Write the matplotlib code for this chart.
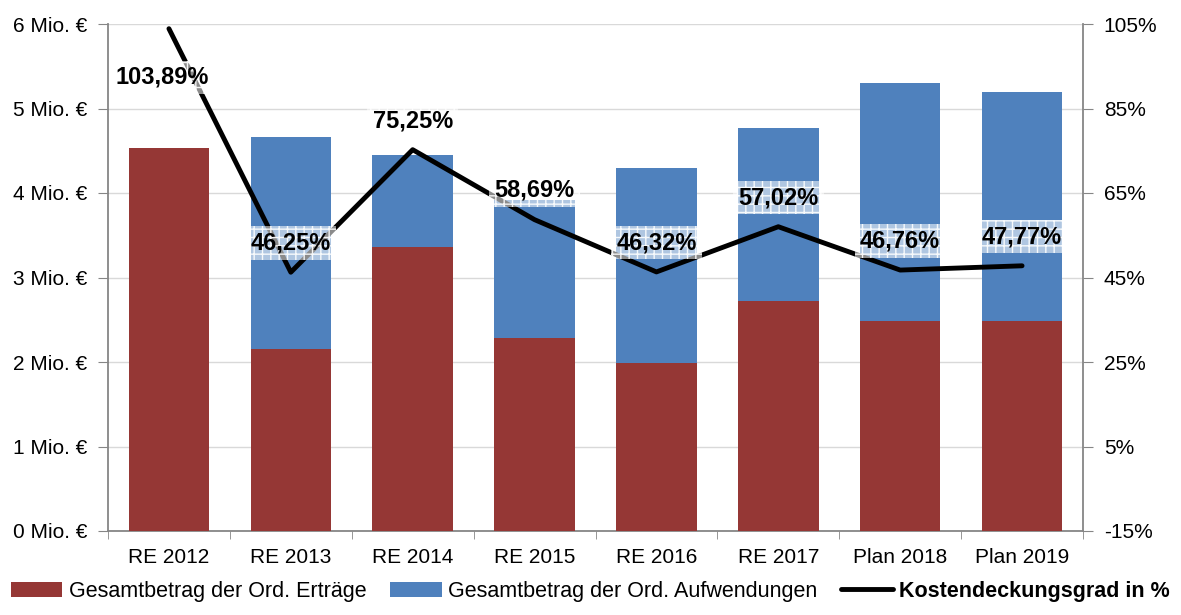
import matplotlib.pyplot as plt
import matplotlib.ticker as plticker
import numpy as np

plt.rcParams['font.family'] = ['Liberation Sans', 'DejaVu Sans']

jahre = ['RE 2012', 'RE 2013', 'RE 2014', 'RE 2015', 'RE 2016', 'RE 2017', 'Plan 2018', 'Plan 2019']
ertraege = [4.53, 2.15, 3.36, 2.28, 1.99, 2.72, 2.49, 2.49]
aufwendungen = [4.36, 4.66, 4.45, 3.92, 4.30, 4.77, 5.30, 5.20]
kostendeckung = [103.89, 46.25, 75.25, 58.69, 46.32, 57.02, 46.76, 47.77]
beschriftung = ['103,89%', '46,25%', '75,25%', '58,69%', '46,32%', '57,02%', '46,76%', '47,77%']
prozent_ticks = [-15, 5, 25, 45, 65, 85, 105]

rot = '#953735'
blau = '#4f81bd'
grau = '#868686'

fig = plt.figure(figsize=(11.81, 6.15), dpi=100)
ax = fig.add_axes([108/1181, 1 - 531/615, (1083 - 108)/1181, (531 - 24)/615])
x = np.arange(len(jahre))

ax.bar(x, aufwendungen, width=0.66, color=blau, zorder=2, label='Gesamtbetrag der Ord. Aufwendungen')
ax.bar(x, ertraege, width=0.66, color=rot, zorder=3, label='Gesamtbetrag der Ord. Erträge')
ax.set_ylim(0, 6)
ax.set_xlim(-0.5, len(jahre) - 0.5)
ax.yaxis.set_major_locator(plticker.MultipleLocator(1))
ax.yaxis.set_major_formatter(plticker.FuncFormatter(lambda v, p: '%d Mio. €' % v))
ax.set_xticks(x)
ax.set_xticklabels(jahre)
ax.set_xticks(np.arange(-0.5, len(jahre)), minor=True)
ax.tick_params(axis='x', which='major', length=0, pad=12, labelsize=15)
ax.tick_params(axis='x', which='minor', length=6, color=grau, direction='out')
ax.tick_params(axis='y', length=7, color=grau, labelsize=15, pad=8)
ax.grid(axis='y', color='#d9d9d9', linewidth=1, zorder=0)
ax.set_axisbelow(True)
for s in ['top', 'right']:
    ax.spines[s].set_visible(False)
for s in ['left', 'bottom']:
    ax.spines[s].set_color(grau)
    ax.spines[s].set_linewidth(1.3)

ax2 = ax.twinx()
ax2.plot(x, kostendeckung, color='black', linewidth=3.5, solid_capstyle='round', zorder=4,
         label='Kostendeckungsgrad in %')
ax2.set_ylim(-15, 105)
ax2.yaxis.set_major_locator(plticker.FixedLocator(prozent_ticks))
ax2.yaxis.set_major_formatter(plticker.FuncFormatter(lambda v, p: '%d%%' % v))
ax2.tick_params(axis='y', length=7, color=grau, labelsize=15, pad=8)
for s in ['top', 'left', 'bottom']:
    ax2.spines[s].set_visible(False)
ax2.spines['right'].set_color(grau)
ax2.spines['right'].set_linewidth(1.3)

for i, (v, txt) in enumerate(zip(kostendeckung, beschriftung)):
    dy = -35 if i == 0 else 21
    dx = -5 if i == 0 else 0
    ax2.annotate(txt, (x[i], v), xytext=(dx, dy), textcoords='offset points',
                 ha='center', va='center', fontsize=17, fontweight='bold', zorder=6,
                 bbox=dict(boxstyle='square,pad=0.22', facecolor=(1, 1, 1, 0.55),
                           edgecolor=(1, 1, 1, 0.9), linewidth=0, hatch='++'))

h1, l1 = ax.get_legend_handles_labels()
h2, l2 = ax2.get_legend_handles_labels()
leg = fig.legend([h1[1], h1[0], h2[0]], [l1[1], l1[0], l2[0]], loc='lower center',
                 bbox_to_anchor=(0.5, -0.01), ncol=3, frameon=False, fontsize=15.5,
                 handlelength=2.4, handletextpad=0.3, columnspacing=1.1)
leg.get_texts()[2].set_fontweight('bold')

fig.savefig('out.png', dpi=100)
